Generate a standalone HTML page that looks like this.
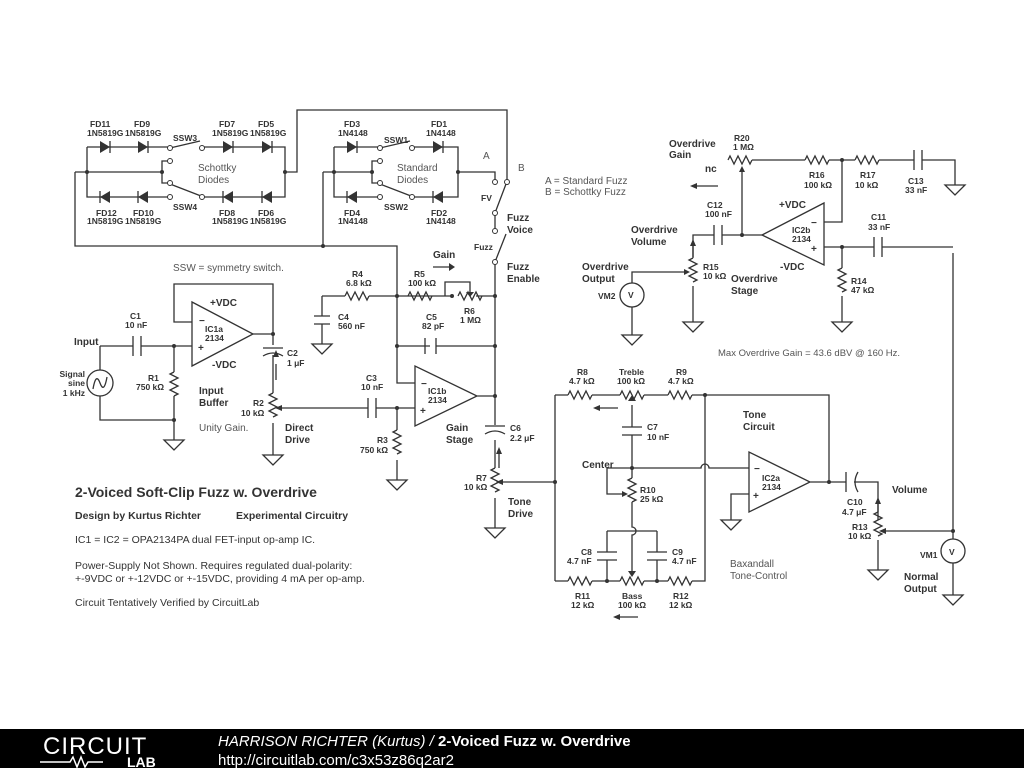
<!DOCTYPE html>
<html><head><meta charset="utf-8"><style>
body{margin:0;background:#fff;width:1024px;height:768px;overflow:hidden}
svg{display:block}
.w{stroke:#333;stroke-width:1.3;fill:none}
.f{fill:#333}
text{font-family:"Liberation Sans",sans-serif;fill:#333}
.b{font-weight:bold;font-size:8.5px}
.m{font-weight:bold;font-size:10px}
.g{font-size:10px;fill:#555}
</style></head><body>
<svg width="1024" height="768" viewBox="0 0 1024 768">
<g class="w">
<path d="M87 147H170M202 147H285V197H202M170 197H87V147M87 172H162V161H170M162 172V183H170M285 172H297V110H507V181"/>
<path d="M75 172H87M75 172V246H397V296"/>
<path d="M170 148L200 141M170 184L201 196"/>
<path d="M334 147H380M412 147H458V197H412M380 197H334V147M334 172H372V161H380M372 172V183H380M458 172H495V181M323 172H334M323 172V246"/>
<path d="M380 148L410 141M380 184L411 196"/>
<path d="M110 141V153M148 141V153M233 141V153M272 141V153M357 141V153M443 141V153M100 191V203M138 191V203M223 191V203M262 191V203M347 191V203M433 191V203"/>
<path d="M495 213L506 184M495 213V231M495 262L506 234M495 262V296V393V425M495 440V468"/>
<path d="M322 296H345M369 296H420M420 296H452M476 296H495M322 296V316M322 324V344M397 296V383H415M397 346H430M436 346H495"/>
<path d="M345 296l2-4 4 8 4-8 4 8 4-8 4 8 2-4"/>
<path d="M408 296l2-4 4 8 4-8 4 8 4-8 4 8 2-4"/>
<path d="M458 296l2-4 4 8 4-8 4 8 4-8 4 8 2-4"/>
<path d="M445 296V282H470V292"/>
<path d="M314 316H330M314 324H330M425 338V354M436 338V354"/>
<path d="M192 302V366L253 334Z"/>
<path d="M100 346H133M141 346H192M192 322H174V284H273V334H253M174 346V372M174 396V420M100 346V370M100 396V420H174V440M273 334V345M273 355V393M273 423V455"/>
<path d="M133 336V356M141 336V356M263 348H283M263 356Q273 350 283 356"/>
<path d="M174 372l-4 2 8 4-8 4 8 4-8 4 8 4-4 2"/>
<path d="M273 393l-4 2 8 4-8 4 8 4-8 4 8 4-4 2"/>
<path d="M282 408H368M376 408H415M397 408V430M397 460V480"/>
<path d="M368 398V418M376 398V418"/>
<path d="M397 430l-4 2 8 4-8 4 8 4-8 4 8 4-4 2"/>
<path d="M415 366V426L477 396Z M477 396H495"/>
<path d="M485 426H505M485 434Q495 428 505 434"/>
<path d="M495 468l-4 2 8 4-8 4 8 4-8 4 8 4-4 2M495 498V528"/>
<path d="M555 482H503"/>
<path d="M312 344H332L322 354ZM164 440H184L174 450ZM263 455H283L273 465ZM387 480H407L397 490ZM485 528H505L495 538ZM721 520H741L731 530ZM868 570H888L878 580ZM943 595H963L953 605ZM945 185H965L955 195ZM832 322H852L842 332ZM683 322H703L693 332ZM622 335H642L632 345Z"/>
<path d="M555 395V581M555 395H568M592 395H620M644 395H668M692 395H829V482"/>
<path d="M568 395l2-4 4 8 4-8 4 8 4-8 4 8 2-4M620 395l2-4 4 8 4-8 4 8 4-8 4 8 2-4M668 395l2-4 4 8 4-8 4 8 4-8 4 8 2-4"/>
<path d="M555 581H568M592 581H620M644 581H668M692 581H705V395"/>
<path d="M568 581l2-4 4 8 4-8 4 8 4-8 4 8 2-4M620 581l2-4 4 8 4-8 4 8 4-8 4 8 2-4M668 581l2-4 4 8 4-8 4 8 4-8 4 8 2-4"/>
<path d="M632 405V427M632 435V478M622 427H642M622 435H642M607 468H701a4 4 0 0 1 8 0H749M607 468V494H624"/>
<path d="M632 478l-4 2 8 4-8 4 8 4-8 4 8 4-4 2M632 502V527a4 4 0 0 1 0 8V571"/>
<path d="M607 531H657M607 531V552M607 560V581M657 531V552M657 560V581M597 552H617M597 560H617M647 552H667M647 560H667"/>
<path d="M749 452V512L810 482Z M810 482H846M854 482H878V512M749 494H731V520"/>
<path d="M846 472V492M858 472Q852 482 858 492"/>
<path d="M878 512l-4 2 8 4-8 4 8 4-8 4 8 4-4 2M878 540V570M886 531H953M953 253V539M953 563V595"/>
<path d="M762 235L824 203V265Z"/>
<path d="M824 222H842V160M728 160l2-4 4 8 4-8 4 8 4-8 4 8 2-4M752 160H805M805 160l2-4 4 8 4-8 4 8 4-8 4 8 2-4M829 160H855M855 160l2-4 4 8 4-8 4 8 4-8 4 8 2-4M879 160H914M922 160H955V185M914 150V170M922 150V170"/>
<path d="M742 235V172M762 235H722M714 235H693V258M714 225V245M722 225V245M693 258l-4 2 8 4-8 4 8 4-8 4 8 4-4 2M693 286V322"/>
<path d="M632 283V272H684M632 307V335"/>
<path d="M824 247H874M882 247H953M842 247V268M842 268l-4 2 8 4-8 4 8 4-8 4 8 4-4 2M842 296V322M874 237V257M882 237V257"/>
<circle cx="632" cy="295" r="12"/><circle cx="953" cy="551" r="12"/>
<circle cx="100" cy="383" r="13"/>
<path d="M93 389Q96 372 100 383T107 377"/>
<path d="M433 267H449M499 468V454M276 380V364M600 408H618M620 617H638M693 257V246M697 186H718M878 520V504"/>
</g>
<g class="f">
<path d="M100 141V153L110 147ZM138 141V153L148 147ZM223 141V153L233 147ZM262 141V153L272 147ZM347 141V153L357 147ZM433 141V153L443 147Z"/>
<path d="M110 191V203L100 197ZM148 191V203L138 197ZM233 191V203L223 197ZM272 191V203L262 197ZM357 191V203L347 197ZM443 191V203L433 197Z"/>
<path d="M449 263l6 4-6 4ZM496 454l3-7 3 7ZM273 357l3-7 3 7ZM600 405l-7 3 7 3ZM620 614l-7 3 7 3ZM690 246l3-7 3 7ZM697 183l-7 3 7 3ZM875 504l3-7 3 7Z"/>
<path d="M466 292l4 5 4-5ZM628 401l4-6 4 6ZM628 571l4 6 4-6ZM739 172l3-6 3 6ZM622 491l6 3-6 3ZM282 405l-7 3 7 3ZM684 269l6 3-6 3ZM503 479l-7 3 7 3ZM886 528l-7 3 7 3Z"/>
<circle cx="87" cy="172" r="2"/><circle cx="162" cy="172" r="2"/><circle cx="285" cy="172" r="2"/><circle cx="334" cy="172" r="2"/><circle cx="372" cy="172" r="2"/><circle cx="458" cy="172" r="2"/><circle cx="323" cy="246" r="2"/><circle cx="397" cy="296" r="2"/><circle cx="452" cy="296" r="2"/><circle cx="495" cy="296" r="2"/><circle cx="397" cy="346" r="2"/><circle cx="495" cy="346" r="2"/><circle cx="495" cy="396" r="2"/><circle cx="397" cy="408" r="2"/><circle cx="174" cy="346" r="2"/><circle cx="174" cy="420" r="2"/><circle cx="273" cy="334" r="2"/><circle cx="555" cy="482" r="2"/><circle cx="705" cy="395" r="2"/><circle cx="632" cy="468" r="2"/><circle cx="607" cy="581" r="2"/><circle cx="657" cy="581" r="2"/><circle cx="829" cy="482" r="2"/><circle cx="953" cy="531" r="2"/><circle cx="842" cy="160" r="2"/><circle cx="742" cy="235" r="2"/><circle cx="842" cy="247" r="2"/>
</g>
<g fill="#fff" stroke="#333" stroke-width="1">
<circle cx="170" cy="148" r="2.5"/><circle cx="202" cy="148" r="2.5"/><circle cx="170" cy="161" r="2.5"/><circle cx="170" cy="183" r="2.5"/><circle cx="170" cy="197" r="2.5"/><circle cx="202" cy="197" r="2.5"/>
<circle cx="380" cy="148" r="2.5"/><circle cx="412" cy="148" r="2.5"/><circle cx="380" cy="161" r="2.5"/><circle cx="380" cy="183" r="2.5"/><circle cx="380" cy="197" r="2.5"/><circle cx="412" cy="197" r="2.5"/>
<circle cx="495" cy="182" r="2.5"/><circle cx="507" cy="182" r="2.5"/><circle cx="495" cy="213" r="2.5"/><circle cx="495" cy="231" r="2.5"/><circle cx="495" cy="262" r="2.5"/>
</g>
<g>
<text class="b" x="90" y="127">FD11</text><text class="b" x="87" y="136">1N5819G</text>
<text class="b" x="134" y="127">FD9</text><text class="b" x="125" y="136">1N5819G</text>
<text class="b" x="219" y="127">FD7</text><text class="b" x="212" y="136">1N5819G</text>
<text class="b" x="258" y="127">FD5</text><text class="b" x="250" y="136">1N5819G</text>
<text class="b" x="173" y="141">SSW3</text><text class="b" x="173" y="210">SSW4</text>
<text class="b" x="96" y="216">FD12</text><text class="b" x="87" y="224">1N5819G</text>
<text class="b" x="133" y="216">FD10</text><text class="b" x="125" y="224">1N5819G</text>
<text class="b" x="219" y="216">FD8</text><text class="b" x="212" y="224">1N5819G</text>
<text class="b" x="258" y="216">FD6</text><text class="b" x="250" y="224">1N5819G</text>
<text class="g" x="198" y="171">Schottky</text><text class="g" x="198" y="183">Diodes</text>
<text class="b" x="344" y="127">FD3</text><text class="b" x="338" y="136">1N4148</text>
<text class="b" x="431" y="127">FD1</text><text class="b" x="426" y="136">1N4148</text>
<text class="b" x="384" y="143">SSW1</text><text class="b" x="384" y="210">SSW2</text>
<text class="b" x="344" y="216">FD4</text><text class="b" x="338" y="224">1N4148</text>
<text class="b" x="431" y="216">FD2</text><text class="b" x="426" y="224">1N4148</text>
<text class="g" x="397" y="171">Standard</text><text class="g" x="397" y="183">Diodes</text>
<text class="g" x="483" y="159">A</text><text class="g" x="518" y="171">B</text>
<text class="b" x="481" y="201">FV</text>
<text class="m" x="507" y="221">Fuzz</text><text class="m" x="507" y="233">Voice</text>
<text class="b" x="474" y="250">Fuzz</text>
<text class="m" x="507" y="270">Fuzz</text><text class="m" x="507" y="282">Enable</text>
<text class="m" x="433" y="258">Gain</text>
<text class="g" x="173" y="271">SSW = symmetry switch.</text>
<text class="b" x="352" y="277">R4</text><text class="b" x="346" y="286">6.8 kΩ</text>
<text class="b" x="414" y="277">R5</text><text class="b" x="408" y="286">100 kΩ</text>
<text class="b" x="464" y="314">R6</text><text class="b" x="460" y="323">1 MΩ</text>
<text class="b" x="338" y="320">C4</text><text class="b" x="338" y="329">560 nF</text>
<text class="b" x="426" y="320">C5</text><text class="b" x="422" y="329">82 pF</text>
<text class="b" x="130" y="319">C1</text><text class="b" x="125" y="328">10 nF</text>
<text class="m" x="74" y="345">Input</text>
<g class="b" text-anchor="end"><text x="85" y="377">Signal</text><text x="85" y="386">sine</text><text x="85" y="396">1 kHz</text></g>
<text class="b" x="148" y="381">R1</text><text class="b" x="136" y="390">750 kΩ</text>
<text class="m" x="210" y="306">+VDC</text><text class="m" x="212" y="368">-VDC</text>
<text class="b" x="205" y="332">IC1a</text><text class="b" x="205" y="341">2134</text>
<text class="m" x="199" y="324">−</text><text class="m" x="198" y="351">+</text>
<text class="b" x="287" y="356">C2</text><text class="b" x="287" y="366">1 μF</text>
<text class="m" x="199" y="394">Input</text><text class="m" x="199" y="406">Buffer</text>
<text class="g" x="199" y="431">Unity Gain.</text>
<text class="b" x="253" y="406">R2</text><text class="b" x="241" y="416">10 kΩ</text>
<text class="m" x="285" y="431">Direct</text><text class="m" x="285" y="443">Drive</text>
<text class="b" x="366" y="381">C3</text><text class="b" x="361" y="390">10 nF</text>
<text class="b" x="377" y="443">R3</text><text class="b" x="360" y="453">750 kΩ</text>
<text class="b" x="428" y="394">IC1b</text><text class="b" x="428" y="403">2134</text>
<text class="m" x="421" y="387">−</text><text class="m" x="420" y="414">+</text>
<text class="m" x="446" y="431">Gain</text><text class="m" x="446" y="443">Stage</text>
<text class="b" x="510" y="431">C6</text><text class="b" x="510" y="441">2.2 μF</text>
<text class="b" x="476" y="481">R7</text><text class="b" x="464" y="490">10 kΩ</text>
<text class="m" x="508" y="505">Tone</text><text class="m" x="508" y="517">Drive</text>
<text x="75" y="497" style="font-weight:bold;font-size:14px">2-Voiced Soft-Clip Fuzz w. Overdrive</text>
<text x="75" y="519" style="font-weight:bold;font-size:10.5px">Design by Kurtus Richter</text>
<text x="236" y="519" style="font-weight:bold;font-size:10.5px">Experimental Circuitry</text>
<text x="75" y="543" style="font-size:10.5px">IC1 = IC2 = OPA2134PA dual FET-input op-amp IC.</text>
<text x="75" y="569" style="font-size:10.5px">Power-Supply Not Shown. Requires regulated dual-polarity:</text>
<text x="75" y="582" style="font-size:10.5px">+-9VDC or +-12VDC or +-15VDC, providing 4 mA per op-amp.</text>
<text x="75" y="606" style="font-size:10.5px">Circuit Tentatively Verified by CircuitLab</text>
<text class="g" x="545" y="184">A = Standard Fuzz</text><text class="g" x="545" y="195">B = Schottky Fuzz</text>
<text class="m" x="669" y="147">Overdrive</text><text class="m" x="669" y="158">Gain</text>
<text class="b" x="734" y="141">R20</text><text class="b" x="733" y="150">1 MΩ</text>
<text class="m" x="705" y="172">nc</text>
<text class="b" x="809" y="178">R16</text><text class="b" x="804" y="188">100 kΩ</text>
<text class="b" x="860" y="178">R17</text><text class="b" x="855" y="188">10 kΩ</text>
<text class="b" x="908" y="184">C13</text><text class="b" x="905" y="193">33 nF</text>
<text class="b" x="707" y="208">C12</text><text class="b" x="705" y="217">100 nF</text>
<text class="m" x="779" y="208">+VDC</text><text class="m" x="780" y="270">-VDC</text>
<text class="b" x="792" y="233">IC2b</text><text class="b" x="792" y="242">2134</text>
<text class="m" x="811" y="226">−</text><text class="m" x="811" y="252">+</text>
<text class="b" x="871" y="220">C11</text><text class="b" x="868" y="230">33 nF</text>
<text class="m" x="631" y="233">Overdrive</text><text class="m" x="631" y="245">Volume</text>
<text class="m" x="582" y="270">Overdrive</text><text class="m" x="582" y="282">Output</text>
<text class="b" x="703" y="270">R15</text><text class="b" x="703" y="279">10 kΩ</text>
<text class="m" x="731" y="282">Overdrive</text><text class="m" x="731" y="294">Stage</text>
<text class="b" x="851" y="284">R14</text><text class="b" x="851" y="293">47 kΩ</text>
<text class="b" x="598" y="299">VM2</text><text class="b" x="628" y="298">V</text>
<text class="g" x="718" y="356" style="font-size:9.5px">Max Overdrive Gain = 43.6 dBV @ 160 Hz.</text>
<text class="b" x="577" y="375">R8</text><text class="b" x="569" y="384">4.7 kΩ</text>
<text class="b" x="619" y="375">Treble</text><text class="b" x="617" y="384">100 kΩ</text>
<text class="b" x="676" y="375">R9</text><text class="b" x="668" y="384">4.7 kΩ</text>
<text class="b" x="647" y="430">C7</text><text class="b" x="647" y="440">10 nF</text>
<text class="m" x="743" y="418">Tone</text><text class="m" x="743" y="430">Circuit</text>
<text class="m" x="582" y="468">Center</text>
<text class="b" x="640" y="493">R10</text><text class="b" x="640" y="502">25 kΩ</text>
<text class="b" x="762" y="481">IC2a</text><text class="b" x="762" y="490">2134</text>
<text class="m" x="754" y="472">−</text><text class="m" x="753" y="499">+</text>
<text class="b" x="581" y="555">C8</text><text class="b" x="567" y="564">4.7 nF</text>
<text class="b" x="672" y="555">C9</text><text class="b" x="672" y="564">4.7 nF</text>
<text class="g" x="730" y="567">Baxandall</text><text class="g" x="730" y="579">Tone-Control</text>
<text class="b" x="575" y="599">R11</text><text class="b" x="571" y="608">12 kΩ</text>
<text class="b" x="622" y="599">Bass</text><text class="b" x="618" y="608">100 kΩ</text>
<text class="b" x="673" y="599">R12</text><text class="b" x="669" y="608">12 kΩ</text>
<text class="b" x="847" y="505">C10</text><text class="b" x="842" y="515">4.7 μF</text>
<text class="m" x="892" y="493">Volume</text>
<text class="b" x="852" y="530">R13</text><text class="b" x="848" y="539">10 kΩ</text>
<text class="b" x="920" y="558">VM1</text><text class="b" x="949" y="555">V</text>
<text class="m" x="904" y="580">Normal</text><text class="m" x="904" y="592">Output</text>
</g>
<rect x="0" y="729" width="1024" height="39" fill="#000"/>
<text x="43" y="754" style="font-size:24px;fill:#fff;letter-spacing:1px">CIRCUIT</text>
<path d="M40 762h30l3-5 4 10 4-10 4 10 3-5h15" stroke="#fff" stroke-width="1.5" fill="none"/>
<text x="127" y="767" style="font-size:14px;font-weight:bold;fill:#fff">LAB</text>
<text x="218" y="746" style="font-size:15px;fill:#fff;font-style:italic">HARRISON RICHTER (Kurtus) / <tspan style="font-weight:bold;font-style:normal">2-Voiced Fuzz w. Overdrive</tspan></text>
<text x="218" y="765" style="font-size:15px;fill:#fff">http://circuitlab.com/c3x53z86q2ar2</text>
</svg>
</body></html>
